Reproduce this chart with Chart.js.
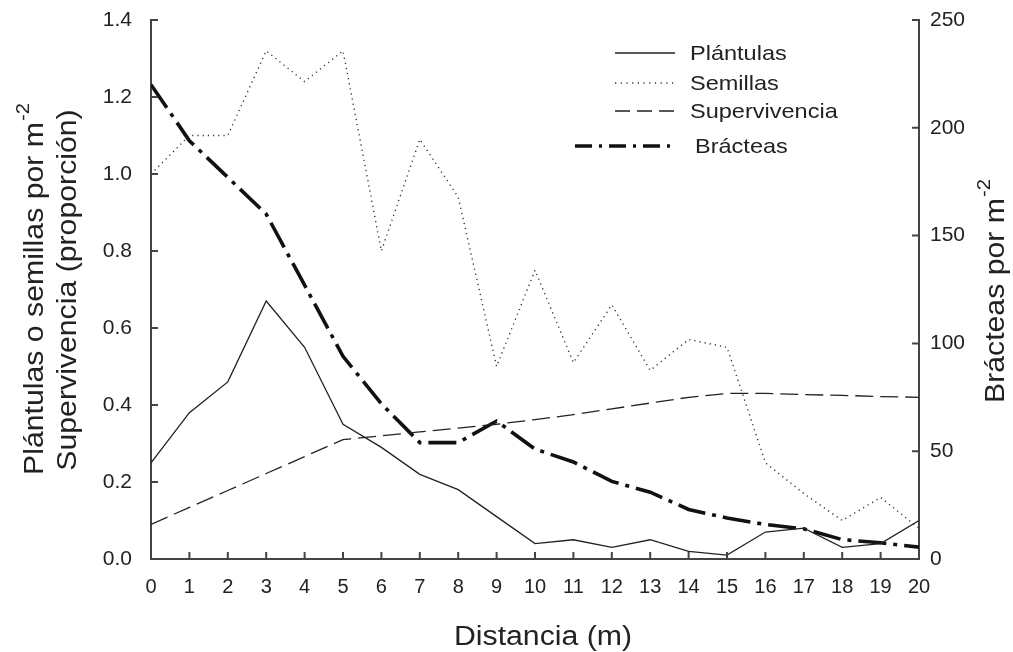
<!DOCTYPE html>
<html>
<head>
<meta charset="utf-8">
<script src="https://cdn.jsdelivr.net/npm/chart.js@4.4.1/dist/chart.umd.min.js"></script>
<style>
  html, body { margin: 0; padding: 0; background: #fff; }
  #wrap { width: 1013px; height: 652px; position: relative; }
</style>
</head>
<body>
<div id="wrap"><canvas id="c" width="1013" height="652"></canvas></div>
<script>
// ---- data ----
const distancias = [0,1,2,3,4,5,6,7,8,9,10,11,12,13,14,15,16,17,18,19,20];
const plantulas = [0.25,0.38,0.46,0.67,0.55,0.35,0.29,0.22,0.18,0.11,0.04,0.05,0.03,0.05,0.02,0.01,0.07,0.08,0.03,0.04,0.10];
const semillas = [1.00,1.10,1.10,1.32,1.24,1.32,0.80,1.09,0.94,0.50,0.75,0.51,0.66,0.49,0.57,0.55,0.25,0.17,0.10,0.16,0.08];
const supervivencia = [0.09,0.134,0.178,0.222,0.266,0.31,0.32,0.33,0.34,0.35,0.362,0.375,0.39,0.405,0.42,0.43,0.43,0.427,0.425,0.422,0.42];
const bracteas = [220,194,177,160,127,94,72,54,54,64,51,45,36,31,23,19,16,14,9,7.5,5.5];
const leftTicks = [0,0.2,0.4,0.6,0.8,1.0,1.2,1.4];
const rightTicks = [0,50,100,150,200,250];
const seriesNames = ['Plántulas','Semillas','Supervivencia','Brácteas'];

const FONT = '"Liberation Sans", Arial, Helvetica, sans-serif';
const INK = '#222';
const AXIS = '#444';
const STRETCH = 1.12;

function pts(arr){ return distancias.map((d,i)=>({x:d,y:arr[i]})); }

const styles = [
  {color:INK, width:1.3, dash:[], legDash:[]},
  {color:'#333', width:1.4, dash:[1.2,4], legDash:[1.2,4.5]},
  {color:INK, width:1.3, dash:[18,7], legDash:[15,7]},
  {color:'#111', width:3.6, dash:[28,7,4,7], legDash:[17,7,3,7]}
];

const datasets = [plantulas, semillas, supervivencia, bracteas].map((arr,i)=>({
  label: seriesNames[i],
  data: pts(arr),
  yAxisID: i===3 ? 'y2' : 'y',
  borderColor: styles[i].color,
  borderWidth: styles[i].width,
  borderDash: styles[i].dash,
  pointRadius: 0,
  tension: 0,
  fill: false
}));

function noPad(s){ s.paddingTop = 0; s.paddingBottom = 0; s.paddingLeft = 0; s.paddingRight = 0; }

// draws inward ticks, axis titles and legend
const decor = {
  id: 'decor',
  afterDraw(chart){
    const ctx = chart.ctx;
    const xs = chart.scales.x, ys = chart.scales.y, y2 = chart.scales.y2;
    const a = chart.chartArea;
    ctx.save();
    ctx.strokeStyle = AXIS; ctx.lineWidth = 2; ctx.setLineDash([]);
    const TL = 7;
    ctx.beginPath();
    distancias.forEach(d=>{ const px = xs.getPixelForValue(d); ctx.moveTo(px,a.bottom); ctx.lineTo(px,a.bottom-TL); });
    leftTicks.forEach(v=>{ const py = ys.getPixelForValue(v); ctx.moveTo(a.left,py); ctx.lineTo(a.left+TL,py); });
    rightTicks.forEach(v=>{ const py = y2.getPixelForValue(v); ctx.moveTo(a.right,py); ctx.lineTo(a.right-TL,py); });
    ctx.stroke();

    ctx.fillStyle = '#222';
    function supText(main, sup, size, cx, cy, rot, align){
      ctx.save();
      ctx.translate(cx, cy);
      ctx.rotate(rot);
      ctx.scale(STRETCH, 1);
      ctx.font = size + 'px ' + FONT;
      const w1 = ctx.measureText(main).width;
      const ss = Math.round(size*0.68);
      ctx.font = ss + 'px ' + FONT;
      const w2 = sup ? ctx.measureText(sup).width + 1 : 0;
      const tw = w1 + w2;
      const x0 = align === 'left' ? 0 : -tw/2;
      ctx.textBaseline = 'alphabetic';
      ctx.textAlign = 'left';
      ctx.font = size + 'px ' + FONT;
      ctx.fillText(main, x0, size*0.36);
      if (sup){
        ctx.font = ss + 'px ' + FONT;
        ctx.fillText(sup, x0 + w1 + 1, size*0.36 - size*0.5);
      }
      ctx.restore();
    }
    supText('Plántulas o semillas por m', '-2', 27, 33, 289, -Math.PI/2);
    supText('Supervivencia (proporción)', '', 27, 66, 290, -Math.PI/2);
    supText('Brácteas por m', '-2', 27, 994, 291, -Math.PI/2);
    supText('Distancia (m)', '', 27, 543, 635, 0);

    // legend
    const rows = [
      {y:53, x0:615, x1:675, tx:690},
      {y:83, x0:615, x1:675, tx:690},
      {y:111, x0:615, x1:675, tx:690},
      {y:146, x0:575, x1:672, tx:695}
    ];
    rows.forEach((r,i)=>{
      const s = styles[i];
      ctx.strokeStyle = s.color;
      ctx.lineWidth = s.width;
      ctx.setLineDash(s.legDash);
      ctx.beginPath(); ctx.moveTo(r.x0, r.y); ctx.lineTo(r.x1, r.y); ctx.stroke();
      ctx.setLineDash([]);
      supText(seriesNames[i], '', 21, r.tx, r.y - 1, 0, 'left');
    });
    ctx.restore();
  }
};

new Chart(document.getElementById('c'), {
  type: 'line',
  data: { datasets },
  options: {
    responsive: false,
    animation: false,
    devicePixelRatio: 1,
    layout: { padding: { top: 20, left: 0, right: 0, bottom: 0 } },
    plugins: { legend: { display: false }, tooltip: { enabled: false } },
    scales: {
      x: {
        type: 'linear', min: 0, max: 20,
        afterFit(s){ s.height = 93; noPad(s); },
        afterBuildTicks(s){ s.ticks = distancias.map(v=>({value:v})); },
        grid: { display: false, drawTicks: false },
        border: { display: true, color: AXIS, width: 2 },
        ticks: { color: '#222', font: { family: FONT, size: 20 }, padding: 16, maxRotation: 0, autoSkip: false }
      },
      y: {
        position: 'left', min: 0, max: 1.4,
        afterFit(s){ s.width = 151; noPad(s); },
        afterBuildTicks(s){ s.ticks = leftTicks.map(v=>({value:v})); },
        grid: { display: false, drawTicks: false },
        border: { display: true, color: AXIS, width: 2 },
        ticks: { color: '#222', font: { family: FONT, size: 21 }, padding: 19, callback: v => Number(v).toFixed(1) }
      },
      y2: {
        position: 'right', min: 0, max: 250,
        afterFit(s){ s.width = 94; noPad(s); },
        afterBuildTicks(s){ s.ticks = rightTicks.map(v=>({value:v})); },
        grid: { display: false, drawTicks: false },
        border: { display: true, color: AXIS, width: 2 },
        ticks: { color: '#222', font: { family: FONT, size: 21 }, padding: 11, callback: v => String(v) }
      }
    }
  },
  plugins: [decor]
});
</script>
</body>
</html>
